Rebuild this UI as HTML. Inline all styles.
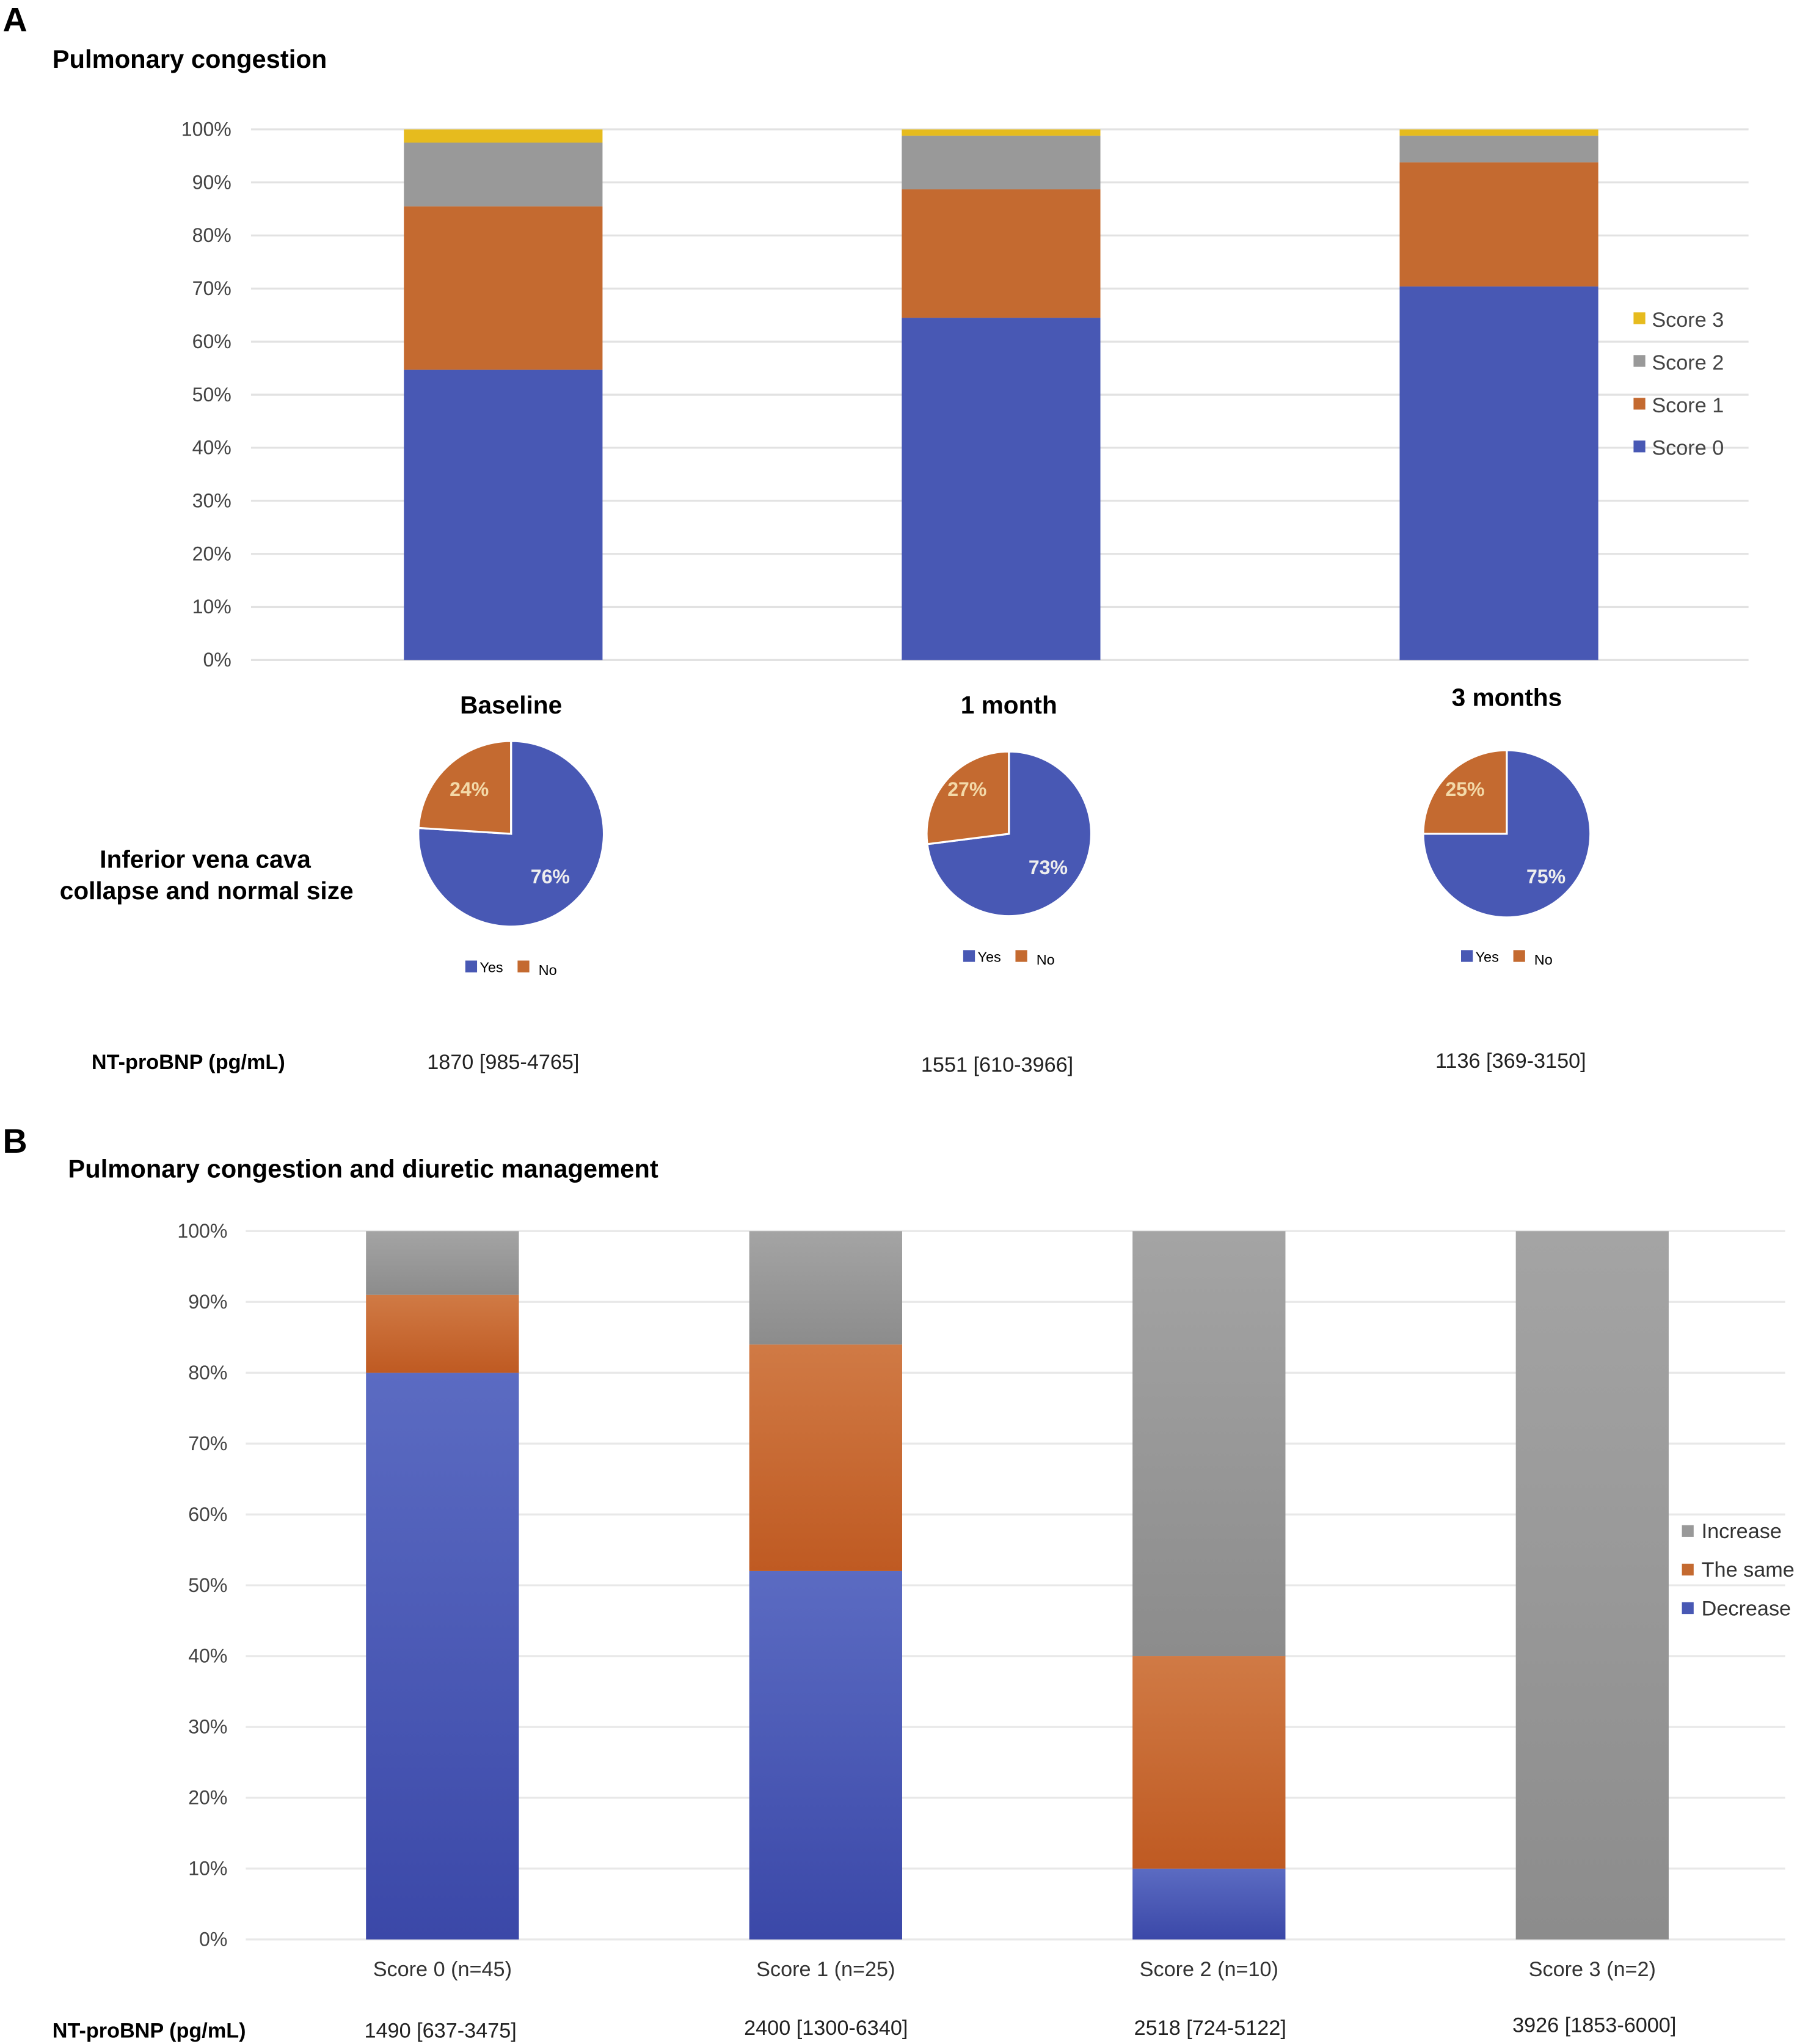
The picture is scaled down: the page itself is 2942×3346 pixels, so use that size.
<!DOCTYPE html>
<html><head><meta charset="utf-8">
<style>
html,body{margin:0;padding:0;background:#fff;}
svg{display:block;font-family:"Liberation Sans",Arial,sans-serif;}
</style></head>
<body>
<svg id="fig" width="2942" height="3346" viewBox="0 0 1375 1564" xmlns="http://www.w3.org/2000/svg">
<defs>
<linearGradient id="gBlue" x1="0" y1="0" x2="0" y2="1"><stop offset="0" stop-color="#5b6bc2"/><stop offset="1" stop-color="#3b48a8"/></linearGradient>
<linearGradient id="gOrange" x1="0" y1="0" x2="0" y2="1"><stop offset="0" stop-color="#d07a45"/><stop offset="1" stop-color="#bf5a22"/></linearGradient>
<linearGradient id="gGray" x1="0" y1="0" x2="0" y2="1"><stop offset="0" stop-color="#a4a4a4"/><stop offset="1" stop-color="#8c8c8c"/></linearGradient>
</defs>
<text x="2" y="24" font-size="26" font-weight="bold">A</text>
<text x="40" y="52" font-size="19.5" font-weight="bold">Pulmonary congestion</text>
<text x="2" y="882" font-size="26" font-weight="bold">B</text>
<text x="52" y="901" font-size="19.5" font-weight="bold">Pulmonary congestion and diuretic management</text>
<g id="chartA"></g>
<g id="pies"></g>
<g id="chartB"></g>
</svg>
<script>
const aCategories = ["Baseline", "1 month", "3 months"];
const aSeries = ["Score 0", "Score 1", "Score 2", "Score 3"];
const aScore0 = [54.7, 64.5, 70.4];
const aScore1 = [30.8, 24.2, 23.4];
const aScore2 = [12.0, 10.1, 5.0];
const aScore3 = [2.5, 1.2, 1.2];
const aTicks = ["0%","10%","20%","30%","40%","50%","60%","70%","80%","90%","100%"];
const bnpA = ["1870 [985-4765]", "1551 [610-3966]", "1136 [369-3150]"];
const pieYes = [76, 73, 75];
const pieNo = [24, 27, 25];
const bCategories = ["Score 0 (n=45)", "Score 1 (n=25)", "Score 2 (n=10)", "Score 3 (n=2)"];
const bSeries = ["Decrease", "The same", "Increase"];
const bDecrease = [80, 52, 10, 0];
const bSame = [11, 32, 30, 0];
const bIncrease = [9, 16, 60, 100];
const bnpB = ["1490 [637-3475]", "2400  [1300-6340]", "2518 [724-5122]", "3926 [1853-6000]"];

const NS = "http://www.w3.org/2000/svg";
function mk(tag, attrs, parent, txt){
  const e = document.createElementNS(NS, tag);
  for (const k in attrs) e.setAttribute(k, attrs[k]);
  if (txt !== undefined) e.textContent = txt;
  parent.appendChild(e); return e;
}

// ---- Chart A ----
(function(){
  const g = document.getElementById('chartA');
  const y0 = 505, y100 = 99;
  const yA = v => y0 - (y0 - y100) * v / 100;
  const xA = i => 309 + i * 381;
  const bw = 152;
  aTicks.forEach((t, i) => {
    const y = yA(i * 10);
    const l = mk('line', {x1:192, x2:1338, y1:y, y2:y, stroke:'#e2e2e2', 'stroke-width':1.5}, g);
    
    
    const tx = mk('text', {x:177, y:y+5, 'font-size':15, fill:'#444', 'text-anchor':'end'}, g, t);
    
    
  });
  const colors = ['#4858b4', '#c46a30', '#999999', '#e6bb1e'];
  const series = [aScore0, aScore1, aScore2, aScore3];
  aCategories.forEach((c, i) => {
    let acc = 0;
    series.forEach((s, k) => {
      const r = mk('rect', {x:xA(i), y:yA(acc + s[i]), width:bw, height:yA(acc) - yA(acc + s[i]), fill:colors[k]}, g);
      
      
      acc += s[i];
    });
    const lbl = mk('text', {x:xA(i) + bw/2 + 6, y: i==2 ? 540 : 546, 'font-size':19, 'font-weight':'bold', 'text-anchor':'middle'}, g, c);
    
    
    const bn = mk('text', {x:[385,763,1156][i], y:[818,820,817][i], 'font-size':16, fill:'#222', 'text-anchor':'middle'}, g, bnpA[i]);
    
    
  });
  const bt = mk('text', {x:70, y:818, 'font-size':16, 'font-weight':'bold'}, g, 'NT-proBNP (pg/mL)');
  
  
  [3,2,1,0].forEach((k, j) => {
    const y = 245 + j * 32.7;
    const sw = mk('rect', {x:1250, y:y-6, width:9, height:9, fill:colors[k]}, g);
    
    
    const lt = mk('text', {x:1264, y:y+5, 'font-size':16, fill:'#444'}, g, aSeries[k]);
    
    
  });
})();

// ---- Pies ----
(function(){
  const g = document.getElementById('pies');
  const cx = [391, 772, 1153], cy = [638, 638, 638], rr = [71, 63, 64];
  const t1 = mk('text', {x:157, y:664, 'font-size':19, 'font-weight':'bold', 'text-anchor':'middle'}, g, 'Inferior vena cava');
  
  
  const t2 = mk('text', {x:158, y:688, 'font-size':19, 'font-weight':'bold', 'text-anchor':'middle'}, g, 'collapse and normal size');
  
  
  pieYes.forEach((yes, i) => {
    const tot = yes + pieNo[i];
    const r = rr[i];
    const pt = f => [cx[i] + r*Math.sin(2*Math.PI*f), cy[i] - r*Math.cos(2*Math.PI*f)];
    const fy = yes / tot;
    const p = pt(fy);
    const big = fy > 0.5 ? 1 : 0;
    const sy = mk('path', {d:`M${cx[i]},${cy[i]} L${cx[i]},${cy[i]-r} A${r},${r} 0 ${big} 1 ${p[0]},${p[1]} Z`, fill:'#4858b4', stroke:'#fff', 'stroke-width':1.5}, g);
    
    
    const sn = mk('path', {d:`M${cx[i]},${cy[i]} L${p[0]},${p[1]} A${r},${r} 0 ${1-big} 1 ${cx[i]},${cy[i]-r} Z`, fill:'#c46a30', stroke:'#fff', 'stroke-width':1.5}, g);
    
    
    const ly = mk('text', {x:cx[i]+30, y:cy[i]+38 - (i==1?7:0), 'font-size':15, 'font-weight':'bold', fill:'#eee', 'text-anchor':'middle'}, g, yes + '%');
    
    
    const ln = mk('text', {x:cx[i]-32, y:cy[i]-29, 'font-size':15, 'font-weight':'bold', fill:'#f3d9a8', 'text-anchor':'middle'}, g, pieNo[i] + '%');
    
    
    const ly0 = [743, 735, 735][i];
    const lx = cx[i] - 35;
    const s1 = mk('rect', {x:lx, y:ly0-8, width:9, height:9, fill:'#4858b4'}, g);
    
    
    const l1 = mk('text', {x:lx+11, y:ly0+1, 'font-size':11}, g, 'Yes');
    
    
    const s2 = mk('rect', {x:lx+40, y:ly0-8, width:9, height:9, fill:'#c46a30'}, g);
    
    
    const l2 = mk('text', {x:lx+56, y:ly0+3, 'font-size':11}, g, 'No');
    
    
  });
})();

// ---- Chart B ----
(function(){
  const g = document.getElementById('chartB');
  const y0 = 1484, y100 = 942;
  const yB = v => y0 - (y0 - y100) * v / 100;
  const xB = i => 280 + i * 293.3;
  const bw = 117;
  aTicks.forEach((t, i) => {
    const y = yB(i * 10);
    const l = mk('line', {x1:188, x2:1366, y1:y, y2:y, stroke:'#e8e8e8', 'stroke-width':1.5}, g);
    
    
    const tx = mk('text', {x:174, y:y+5, 'font-size':15, fill:'#444', 'text-anchor':'end'}, g, t);
    
    
  });
  const fills = ['url(#gBlue)', 'url(#gOrange)', 'url(#gGray)'];
  const series = [bDecrease, bSame, bIncrease];
  bCategories.forEach((c, i) => {
    let acc = 0;
    series.forEach((s, k) => {
      if (s[i] <= 0) return;
      const r = mk('rect', {x:xB(i), y:yB(acc + s[i]), width:bw, height:yB(acc) - yB(acc + s[i]), fill:fills[k]}, g);
      
      
      acc += s[i];
    });
    const lbl = mk('text', {x:xB(i) + bw/2, y:1512, 'font-size':16, fill:'#333', 'text-anchor':'middle'}, g, c);
    
    
    const bn = mk('text', {x:[337,632,926,1220][i], y:[1559,1557,1557,1555][i], 'font-size':16, fill:'#222', 'text-anchor':'middle'}, g, bnpB[i]);
    
    
  });
  const bt = mk('text', {x:40, y:1559, 'font-size':16, 'font-weight':'bold'}, g, 'NT-proBNP (pg/mL)');
  
  
  const lc = ['#999999', '#c46a30', '#4858b4'];
  [2,1,0].forEach((k, j) => {
    const y = 1172 + j * 29.5;
    const sw = mk('rect', {x:1287, y:y-5, width:9, height:9, fill:lc[j]}, g);
    
    
    const lt = mk('text', {x:1302, y:y+5, 'font-size':16, fill:'#333'}, g, bSeries[k]);
    
    
  });
})();
</script>
</body></html>
